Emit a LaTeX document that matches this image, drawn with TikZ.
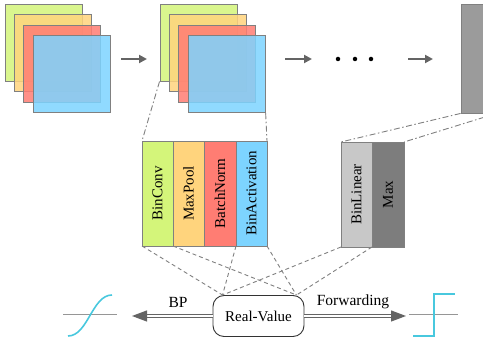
\documentclass[tikz,border=0pt]{standalone}
\usepackage{fontspec}
\usepackage{graphicx}
\setmainfont{Liberation Serif}
\usetikzlibrary{arrows.meta,positioning}

\definecolor{cgreen}{RGB}{212,245,122}
\definecolor{cyellow}{RGB}{255,212,125}
\definecolor{cred}{RGB}{255,125,115}
\definecolor{cblue}{RGB}{125,212,255}
\definecolor{clight}{RGB}{200,200,200}
\definecolor{cdark}{RGB}{125,125,125}
\definecolor{cfc}{RGB}{155,155,155}
\definecolor{cline}{RGB}{128,128,128}
\definecolor{carrow}{RGB}{100,100,100}
\definecolor{caxis}{RGB}{150,150,150}
\definecolor{ccurve}{RGB}{72,200,222}

\tikzset{
  map/.style={draw=cline, fill opacity=.85, line width=.9pt, minimum size=77pt, inner sep=0pt},
  layer/.style={draw=cline, line width=.9pt, minimum width=31pt, minimum height=105pt,
    inner sep=0pt, outer sep=0pt, font=\fontsize{15}{17}\selectfont},
  flow/.style={draw=carrow, line width=2.5pt, -{Triangle[length=8pt,width=8pt]}},
  topdash/.style={draw=cline, line width=.9pt, dash pattern=on 6pt off 2.5pt on 1.5pt off 2.5pt},
  botdash/.style={draw=cline, line width=.9pt, dash pattern=on 4pt off 3pt},
  wide/.style={draw=carrow, line width=1.2pt, double=white, double distance=1.6pt,
    -{Triangle[length=15pt,width=11pt]}},
}

\begin{document}
\begin{tikzpicture}[x=1pt,y=-1pt]
  \useasboundingbox (0,0) rectangle (483,344);
  \foreach \c [count=\i from 0] in {cgreen,cyellow,cred,cblue} {
    \node[map, fill=\c] (a\i) at (43.5+9.4*\i, 42.5+10.6*\i) {};
    \node[map, fill=\c] (b\i) at (198.5+9.4*\i, 42.5+10.6*\i) {};
  }
  \node (fc) [draw=cline, fill=cfc, line width=.9pt, minimum width=35pt, minimum height=109pt, inner sep=0pt] at (478.5,58.5) {};

  \coordinate (p0) at (121,59);
  \coordinate (p1) at (147,59);
  \coordinate (p2) at (285,59);
  \coordinate (p3) at (312,59);
  \coordinate (p4) at (408,59);
  \coordinate (p5) at (433,59);
  \draw[flow] (p0) -- (p1);
  \draw[flow] (p2) -- (p3);
  \draw[flow] (p4) -- (p5);
  \foreach \x [count=\i] in {338,355,371}
    \node (d\i) [circle, fill=black, inner sep=0pt, minimum size=4.5pt] at (\x,59) {};

  \node (conv) [layer, fill=cgreen] at (157.5,193.5) {\rotatebox{90}{BinConv}};
  \node (pool) [layer, fill=cyellow, right=0pt of conv] {\rotatebox{90}{MaxPool}};
  \node (norm) [layer, fill=cred, minimum width=32pt, right=0pt of pool] {\rotatebox{90}{BatchNorm}};
  \node (act) [layer, fill=cblue, right=0pt of norm] {\rotatebox{90}{BinActivation}};
  \node (lin) [layer, fill=clight] at (356.5,194.5) {\rotatebox{90}{BinLinear}};
  \node (max) [layer, fill=cdark, minimum width=32pt, right=0pt of lin] {\rotatebox{90}{Max}};

  \draw[topdash] (b0.south west) -- (conv.north west);
  \draw[topdash] (b3.south east) -- (act.north east);
  \draw[topdash] (fc.south west) -- (lin.north west);
  \draw[topdash] (fc.south east) -- (max.north east);

  \node (rv) [draw=black!80, line width=.9pt, rounded corners=11pt, minimum width=91pt,
    minimum height=41pt, font=\fontsize{15}{17}\selectfont] at (258.5,316) {Real-Value};
  \coordinate (rvl) at ([xshift=10pt]rv.north west);
  \coordinate (rvr) at ([xshift=-8pt]rv.north east);
  \draw[botdash] (conv.south west) -- (rvl);
  \draw[botdash] (act.south west) -- (rvl);
  \draw[botdash] (lin.south west) -- (rvl);
  \draw[botdash] (pool.south west) -- (rvr);
  \draw[botdash] (act.south east) -- (rvr);
  \draw[botdash] (max.south west) -- (rvr);

  \coordinate (bp) at (132,316);
  \coordinate (fw) at (406,316);
  \draw[wide] (rv.west) -- (bp);
  \draw[wide] (rv.east) -- (fw);
  \node (bplabel) [font=\fontsize{15.5}{17}\selectfont] at (178,302) {BP};
  \node (fwlabel) [font=\fontsize{15.5}{17}\selectfont] at (353,302) {Forwarding};

  \draw[caxis, line width=1pt] (63,315) -- (117,315);
  \draw[ccurve, line width=1.6pt] (68,336) .. controls (88,336) and (92,295) .. (112,295);
  \draw[caxis, line width=1pt] (409,315) -- (458,315);
  \draw[ccurve, line width=1.6pt] (413,336) -- (434,336) -- (434,294) -- (455,294);
\end{tikzpicture}
\end{document}
